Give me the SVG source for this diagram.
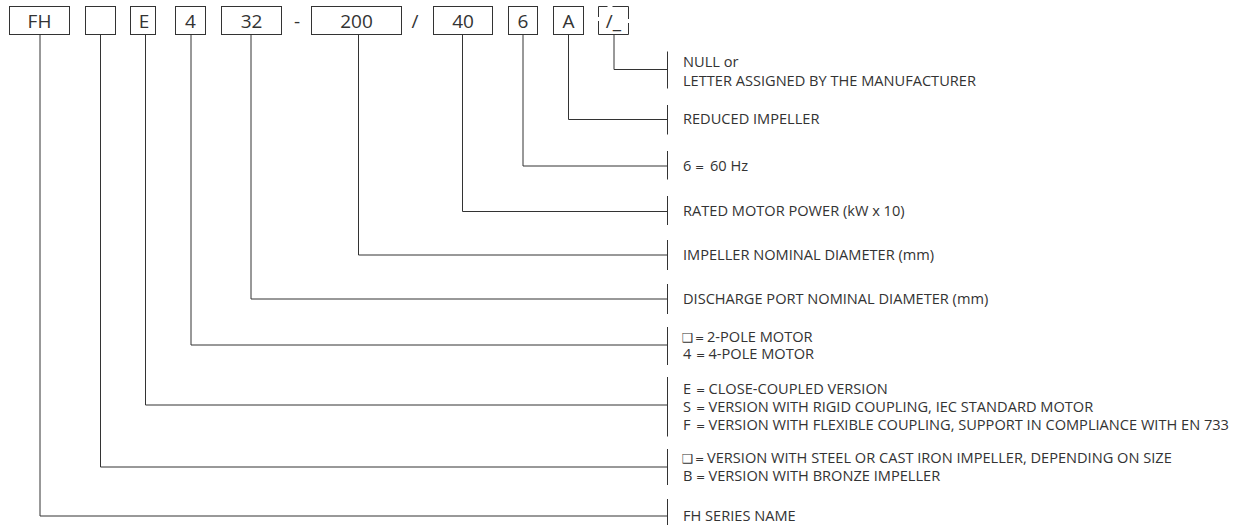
<svg xmlns="http://www.w3.org/2000/svg" width="1257" height="525" viewBox="0 0 1257 525">
<style>
.box{fill:#fff;stroke:#333;stroke-width:1}
.code{font-family:"Open Sans","Liberation Sans",Arial,sans-serif;font-size:19px;fill:#333;text-anchor:middle}
.lbl{font-family:"Open Sans","Liberation Sans","DejaVu Sans",sans-serif;font-size:14.6px;fill:#333}
.sym{font-family:"DejaVu Sans",sans-serif;font-size:12.5px;fill:#333}
.eq{font-family:"DejaVu Sans",sans-serif;font-size:11px;fill:#333}
.con{fill:none;stroke:#333;stroke-width:1}
</style>
<rect width="1257" height="525" fill="#fff"/>
<g id="node-fh"><rect class="box" x="9.5" y="6.5" width="60" height="28"/><text class="code" x="39.5" y="27.5">FH</text></g>
<g id="node-blank"><rect class="box" x="85.5" y="6.5" width="30" height="28"/></g>
<g id="node-e"><rect class="box" x="130.5" y="6.5" width="25" height="28"/><text class="code" x="144" y="27.5">E</text></g>
<g id="node-4"><rect class="box" x="175.5" y="6.5" width="30" height="28"/><text class="code" x="190.5" y="27.5">4</text></g>
<g id="node-32"><rect class="box" x="221.5" y="6.5" width="60" height="28"/><text class="code" x="251.5" y="27.5">32</text></g>
<text class="code" x="297" y="27.5">-</text>
<g id="node-200"><rect class="box" x="311.5" y="6.5" width="90" height="28"/><text class="code" x="356.5" y="27.5">200</text></g>
<text class="code" x="415" y="27.5">/</text>
<g id="node-40"><rect class="box" x="433.5" y="6.5" width="59" height="28"/><text class="code" x="463" y="27.5">40</text></g>
<g id="node-6"><rect class="box" x="508.5" y="6.5" width="29" height="28"/><text class="code" x="523" y="27.5">6</text></g>
<g id="node-a"><rect class="box" x="553.5" y="6.5" width="30" height="28"/><text class="code" x="568.5" y="27.5">A</text></g>
<g id="node-null"><path class="con" d="M598.5 17 V6.5 H607.5 M612.5 6.5 H628.5 V19 M628.5 23 V34.5 H598.5 V21"/><text class="code" x="613.5" y="27.5">/_</text></g>

<g id="connectors" class="con">
<path d="M614 34.5 V69.5 H667.5"/><path d="M667.5 51.5 V88.5"/>
<path d="M568.5 34.5 V119.5 H667.5"/><path d="M667.5 105 V134.5"/>
<path d="M523 34.5 V166 H667.5"/><path d="M667.5 151 V179.5"/>
<path d="M462.5 34.5 V211.5 H667.5"/><path d="M667.5 196 V225"/>
<path d="M358.5 34.5 V255 H667.5"/><path d="M667.5 240 V270"/>
<path d="M251 34.5 V299 H667.5"/><path d="M667.5 284 V314"/>
<path d="M191 34.5 V345 H667.5"/><path d="M667.5 327 V365"/>
<path d="M145.5 34.5 V405 H667.5"/><path d="M667.5 377 V436.5"/>
<path d="M100.5 34.5 V467 H667.5"/><path d="M667.5 449 V485"/>
<path d="M40 34.5 V516 H667.5"/><path d="M667.5 499 V525"/>
</g>

<g id="label-null"><text class="lbl" x="683" y="67">NULL or</text><text class="lbl" x="683" y="85.5">LETTER ASSIGNED BY THE MANUFACTURER</text></g>
<g id="label-a"><text class="lbl" x="683" y="124">REDUCED IMPELLER</text></g>
<g id="label-6"><text class="lbl" y="170.5"><tspan x="683">6</tspan><tspan class="eq" x="695">=</tspan><tspan x="710">60 Hz</tspan></text></g>
<g id="label-40"><text class="lbl" x="683" y="216">RATED MOTOR POWER (kW x 10)</text></g>
<g id="label-200"><text class="lbl" x="683" y="259.5">IMPELLER NOMINAL DIAMETER (mm)</text></g>
<g id="label-32"><text class="lbl" x="683" y="303.5">DISCHARGE PORT NOMINAL DIAMETER (mm)</text></g>
<g id="label-4">
<text class="lbl" y="341.5"><tspan class="sym" x="681.5">❑</tspan><tspan class="eq" x="695">=</tspan><tspan x="707">2-POLE MOTOR</tspan></text>
<text class="lbl" y="359"><tspan x="683">4</tspan><tspan class="eq" x="696">=</tspan><tspan x="708.5">4-POLE MOTOR</tspan></text>
</g>
<g id="label-e">
<text class="lbl" y="393.5"><tspan x="683">E</tspan><tspan class="eq" x="696">=</tspan><tspan x="708.5">CLOSE-COUPLED VERSION</tspan></text>
<text class="lbl" y="411.5"><tspan x="683">S</tspan><tspan class="eq" x="696">=</tspan><tspan x="708.5">VERSION WITH RIGID COUPLING, IEC STANDARD MOTOR</tspan></text>
<text class="lbl" y="429.5"><tspan x="683">F</tspan><tspan class="eq" x="696">=</tspan><tspan x="708.5">VERSION WITH FLEXIBLE COUPLING, SUPPORT IN COMPLIANCE WITH EN 733</tspan></text>
</g>
<g id="label-blank">
<text class="lbl" y="462.5"><tspan class="sym" x="681.5">❑</tspan><tspan class="eq" x="695">=</tspan><tspan x="707">VERSION WITH STEEL OR CAST IRON IMPELLER, DEPENDING ON SIZE</tspan></text>
<text class="lbl" y="480.5"><tspan x="683">B</tspan><tspan class="eq" x="696">=</tspan><tspan x="708.5">VERSION WITH BRONZE IMPELLER</tspan></text>
</g>
<g id="label-fh"><text class="lbl" x="683" y="520.5">FH SERIES NAME</text></g>
</svg>
